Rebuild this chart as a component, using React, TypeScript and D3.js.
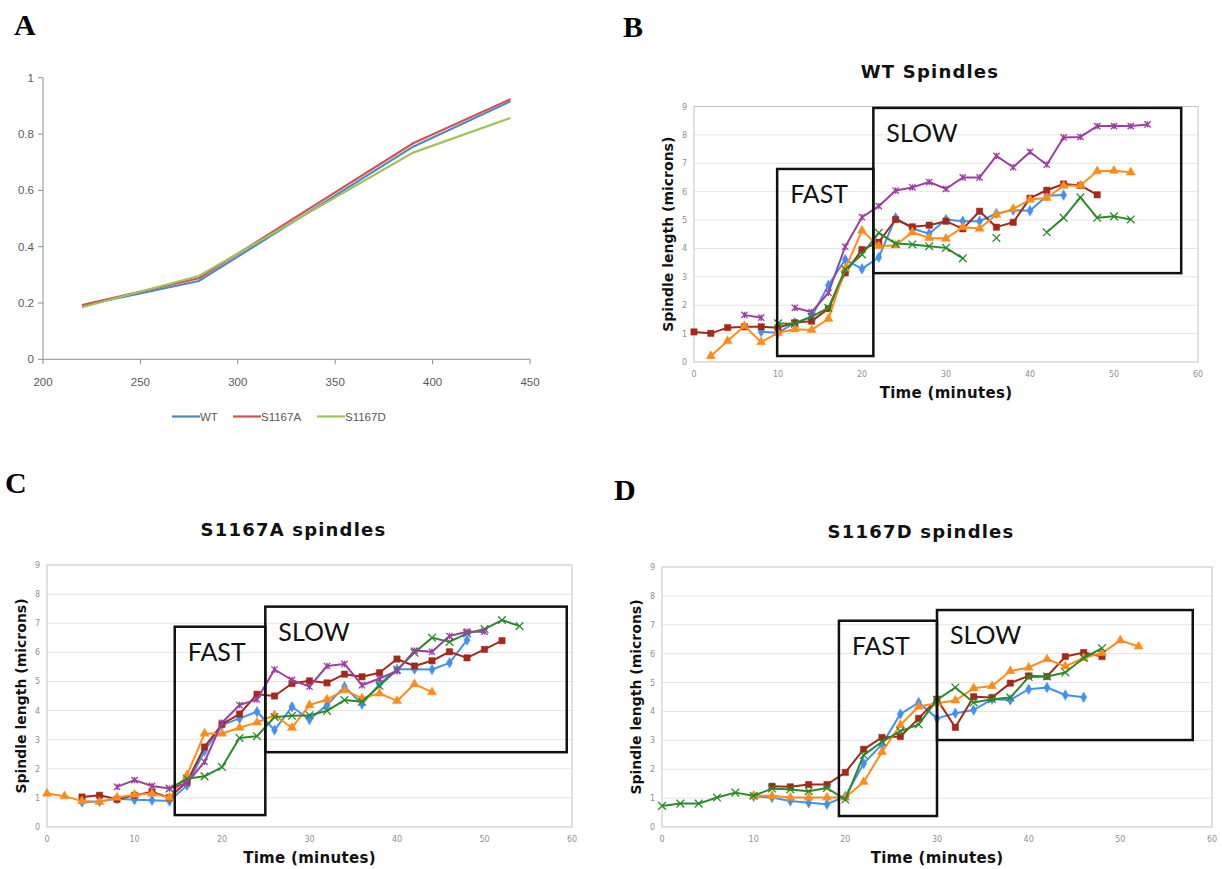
import * as d3 from "d3";

// ---- panel A: absorbance curves ----
const wavelengths = [220, 280, 390, 440];
const absWT = [0.19, 0.278, 0.755, 0.916];
const absS1167A = [0.193, 0.288, 0.767, 0.924];
const absS1167D = [0.185, 0.296, 0.734, 0.857];
const absTicksX = [200, 250, 300, 350, 400, 450];
const absTicksY = [0, 0.2, 0.4, 0.6, 0.8, 1];

// ---- panels B-D: spindle length vs time (one entry every 2 minutes) ----
const minutes = [0, 2, 4, 6, 8, 10, 12, 14, 16, 18, 20, 22, 24, 26, 28, 30, 32, 34, 36, 38, 40, 42, 44, 46, 48, 50, 52, 54];
const _ = null;

const wtBlue = [_, _, _, _, 1.07, 1.03, 1.38, 1.6, 2.7, 3.61, 3.28, 3.69, 5.08, 4.7, 4.52, 5.02, 4.96, 4.96, 5.23, 5.35, 5.33, 5.86, 5.88, _, _, _, _, _];
const wtRed = [1.06, 1.01, 1.21, 1.24, 1.24, 1.21, 1.38, 1.44, 1.88, 3.14, 3.96, 4.22, 5.02, 4.76, 4.82, 4.96, 4.69, 5.31, 4.75, 4.92, 5.77, 6.05, 6.27, 6.22, 5.89, _, _, _];
const wtOrange = [_, 0.21, 0.74, 1.27, 0.7, 1.03, 1.15, 1.13, 1.52, 3.28, 4.63, 4.08, 4.11, 4.57, 4.37, 4.35, 4.75, 4.7, 5.19, 5.39, 5.72, 5.78, 6.21, 6.22, 6.72, 6.74, 6.68, _];
const wtGreen = [_, _, _, _, _, 1.36, 1.35, 1.6, 1.91, 3.26, 3.79, 4.55, 4.17, 4.14, 4.08, 4.02, 3.65, _, 4.37, _, _, 4.57, 5.08, 5.8, 5.08, 5.13, 5.02, _];
const wtPurple = [_, _, _, 1.66, 1.56, _, 1.91, 1.76, 2.44, 4.06, 5.1, 5.49, 6.04, 6.15, 6.34, 6.1, 6.5, 6.5, 7.26, 6.86, 7.4, 6.95, 7.91, 7.93, 8.31, 8.31, 8.31, 8.37];

const aBlue = [_, _, 0.86, 0.88, 0.97, 0.94, 0.92, 0.89, 1.43, 2.61, 3.5, 3.73, 3.96, 3.33, 4.13, 3.69, 4.19, 4.82, 4.22, 4.91, 5.42, 5.42, 5.41, 5.64, 6.42, _, _, _];
const aRed = [_, _, 1.03, 1.09, 0.95, 1.09, 1.2, 1.01, 1.55, 2.75, 3.53, 3.88, 4.56, 4.5, 4.93, 5.02, 4.95, 5.25, 5.16, 5.3, 5.77, 5.53, 5.71, 6.02, 5.81, 6.1, 6.4, _];
const aOrange = [1.15, 1.06, 0.89, 0.86, 1.01, 1.11, 1.15, 1.01, 1.78, 3.21, 3.21, 3.41, 3.59, 3.84, 3.41, 4.19, 4.38, 4.7, 4.42, 4.59, 4.33, 4.91, 4.63, _, _, _, _, _];
const aGreen = [_, _, _, _, _, _, _, 1.32, 1.66, 1.74, 2.06, 3.06, 3.12, 3.78, 3.82, 3.84, 3.99, 4.36, 4.3, 4.85, 5.4, 5.99, 6.5, 6.36, 6.65, 6.8, 7.11, 6.9];
const aPurple = [_, _, _, _, 1.38, 1.61, 1.41, 1.32, 1.51, 2.24, 3.58, 4.19, 4.38, 5.41, 5.05, 4.82, 5.53, 5.6, 4.87, 5.1, 5.36, 6.06, 6.02, 6.56, 6.71, 6.71, _, _];

const dBlue = [_, _, _, _, _, 1.06, 1.02, 0.9, 0.84, 0.79, 1.06, 2.2, 2.86, 3.91, 4.31, 3.76, 3.94, 4.05, 4.42, 4.4, 4.77, 4.83, 4.57, 4.49, _, _, _, _];
const dRed = [_, _, _, _, _, _, 1.41, 1.39, 1.47, 1.47, 1.89, 2.69, 3.1, 3.13, 3.76, 4.42, 3.45, 4.51, 4.48, 4.98, 5.23, 5.21, 5.9, 6.04, 5.9, _, _, _];
const dOrange = [_, _, _, _, _, 1.08, 1.08, 1.02, 1.02, 1.02, 1.02, 1.56, 2.6, 3.53, 4.17, 4.28, 4.38, 4.8, 4.88, 5.4, 5.52, 5.81, 5.56, 5.85, 6.02, 6.46, 6.25, _];
const dGreen = [0.73, 0.81, 0.81, 1.02, 1.19, 1.08, 1.33, 1.3, 1.24, 1.35, 0.95, 2.49, 2.95, 3.32, 3.55, 4.4, 4.83, 4.31, 4.42, 4.48, 5.19, 5.21, 5.35, 5.85, 6.19, _, _, _];

// FAST / SLOW boxes: [t0, t1, v0, v1]
const wtFast = [9.9, 21.35, 0.21, 6.8];
const wtSlow = [21.35, 58.0, 3.13, 8.95];
const aFast = [14.6, 24.95, 0.41, 6.88];
const aSlow = [24.95, 59.4, 2.57, 7.57];
const dFast = [19.3, 30.0, 0.38, 7.14];
const dSlow = [30.0, 57.9, 3.01, 7.51];

const spindleTicksX = [0, 10, 20, 30, 40, 50, 60];
const spindleTicksY = [0, 1, 2, 3, 4, 5, 6, 7, 8, 9];

const BLUE = "#4190f2";
const RED = "#a3291b";
const ORANGE = "#ff8c1a";
const GREEN = "#2b8a2b";
const PURPLE = "#9c3ea2";

const starType = {
  draw(ctx: any, size: number) {
    const r = Math.sqrt(size) / 2;
    ctx.moveTo(-r, -r);
    ctx.lineTo(r, r);
    ctx.moveTo(-r, r);
    ctx.lineTo(r, -r);
    ctx.moveTo(0, -r);
    ctx.lineTo(0, r);
  },
};

const markers: Record<string, { type: any; size: number; filled: boolean }> = {
  diamond: { type: d3.symbolDiamond, size: 32, filled: true },
  square: { type: d3.symbolSquare, size: 40, filled: true },
  triangle: { type: d3.symbolTriangle, size: 36, filled: true },
  x: { type: d3.symbolTimes, size: 40, filled: false },
  star: { type: starType, size: 40, filled: false },
};

const panelLetter = {
  fontFamily: "'Liberation Serif', serif",
  fontWeight: 700,
  fontSize: 30,
};

function AbsorbancePanel() {
  const x = d3.scaleLinear().domain([200, 450]).range([43, 530]);
  const y = d3.scaleLinear().domain([0, 1]).range([359.3, 77.7]);
  const line = d3
    .line<number>()
    .x((_d, i) => x(wavelengths[i]))
    .y((d) => y(d));
  const series = [
    { name: "WT", values: absWT, color: "#4f86c6", lx: 172 },
    { name: "S1167A", values: absS1167A, color: "#cf5450", lx: 233 },
    { name: "S1167D", values: absS1167D, color: "#9fc25a", lx: 317 },
  ];
  const font = { fontFamily: "'Liberation Sans', Arial, sans-serif", fontSize: 11.5, fill: "#595959" };
  return (
    <g>
      <text x={14} y={35} {...panelLetter}>A</text>
      <line x1={x(200)} x2={x(450)} y1={y(0)} y2={y(0)} stroke="#8c8c8c" />
      <line x1={x(200)} x2={x(200)} y1={y(0)} y2={y(1)} stroke="#8c8c8c" />
      {absTicksY.map((t) => (
        <g key={t}>
          <line x1={x(200) - 5} x2={x(200)} y1={y(t)} y2={y(t)} stroke="#8c8c8c" />
          <text x={x(200) - 9} y={y(t) + 4} textAnchor="end" {...font}>{t}</text>
        </g>
      ))}
      {absTicksX.map((t) => (
        <g key={t}>
          <line x1={x(t)} x2={x(t)} y1={y(0)} y2={y(0) + 5} stroke="#8c8c8c" />
          <text x={x(t)} y={y(0) + 27} textAnchor="middle" {...font}>{t}</text>
        </g>
      ))}
      {series.map((s) => (
        <path key={s.name} d={line(s.values) || ""} fill="none" stroke={s.color} strokeWidth={2.2} />
      ))}
      {series.map((s) => (
        <g key={s.name + "l"}>
          <line x1={s.lx} x2={s.lx + 28} y1={416.5} y2={416.5} stroke={s.color} strokeWidth={2.2} />
          <text x={s.lx + 28} y={420.5} {...font}>{s.name}</text>
        </g>
      ))}
    </g>
  );
}

type Series = { values: (number | null)[]; color: string; marker: string };

function SpindlePanel(props: {
  letter: string;
  letterX: number;
  letterY: number;
  title: string;
  left: number;
  right: number;
  top: number;
  bottom: number;
  series: Series[];
  fast: number[];
  slow: number[];
}) {
  const { left, right, top, bottom } = props;
  const x = d3.scaleLinear().domain([0, 60]).range([left, right]);
  const y = d3.scaleLinear().domain([0, 9]).range([bottom, top]);
  const line = d3
    .line<number | null>()
    .defined((d) => d != null)
    .x((_d, i) => x(minutes[i]))
    .y((d) => y(d as number));
  const tickFont = { fontFamily: "'DejaVu Sans', Verdana, sans-serif", fontSize: 8, fill: "#8f8f8f" };
  const boldFont = { fontFamily: "'DejaVu Sans', Verdana, sans-serif", fontWeight: 700, fill: "#111" };
  const boxText = { fontFamily: "Lato, 'Open Sans', sans-serif", fontSize: 25, fill: "#111" };
  const cx = (left + right) / 2;
  const box = (b: number[], label: string) => (
    <g>
      <rect
        x={x(b[0])}
        y={y(b[3])}
        width={x(b[1]) - x(b[0])}
        height={y(b[2]) - y(b[3])}
        fill="none"
        stroke="#111"
        strokeWidth={2.5}
      />
      <text x={x(b[0]) + 13} y={y(b[3]) + 34} {...boxText}>{label}</text>
    </g>
  );
  return (
    <g>
      <text x={props.letterX} y={props.letterY} {...panelLetter}>{props.letter}</text>
      <text x={cx - 16} y={top - 29} textAnchor="middle" fontSize={18} letterSpacing={1.2} {...boldFont}>
        {props.title}
      </text>
      {spindleTicksY.map((t) => (
        <g key={t}>
          {t > 0 && t < 9 && (
            <line x1={left} x2={right} y1={y(t)} y2={y(t)} stroke="#e4e4e4" strokeWidth={1} />
          )}
          <text x={left - 7} y={y(t) + 3} textAnchor="end" {...tickFont}>{t}</text>
        </g>
      ))}
      {spindleTicksX.map((t) => (
        <text key={t} x={x(t)} y={bottom + 15} textAnchor="middle" {...tickFont}>{t}</text>
      ))}
      <rect x={left} y={top} width={right - left} height={bottom - top} fill="none" stroke="#c4c4c4" />
      {props.series.map((s, k) => {
        const m = markers[s.marker];
        const sym = d3.symbol().type(m.type).size(m.size)();
        return (
          <g key={k}>
            <path d={line(s.values) || ""} fill="none" stroke={s.color} strokeWidth={2} strokeLinejoin="round" />
            {s.values.map((v, i) =>
              v == null ? null : (
                <path
                  key={i}
                  transform={`translate(${x(minutes[i])},${y(v)})`}
                  d={sym || ""}
                  fill={m.filled ? s.color : "none"}
                  stroke={s.color}
                  strokeWidth={m.filled ? 0.5 : 1.3}
                />
              )
            )}
          </g>
        );
      })}
      {box(props.fast, "FAST")}
      {box(props.slow, "SLOW")}
      <text x={cx} y={bottom + 36} textAnchor="middle" fontSize={15} letterSpacing={0.3} {...boldFont}>
        Time (minutes)
      </text>
      <text
        transform={`translate(${left - 21},${(top + bottom) / 2}) rotate(-90)`}
        textAnchor="middle"
        fontSize={14}
        {...boldFont}
      >
        Spindle length (microns)
      </text>
    </g>
  );
}

export default function App() {
  return (
    <svg
      width={1222}
      height={869}
      style={{ position: "absolute", left: 0, top: 0, background: "#fff" }}
    >
      <AbsorbancePanel />
      <SpindlePanel
        letter="B"
        letterX={623}
        letterY={37}
        title="WT Spindles"
        left={694}
        right={1198}
        top={106.5}
        bottom={362}
        series={[
          { values: wtBlue, color: BLUE, marker: "diamond" },
          { values: wtRed, color: RED, marker: "square" },
          { values: wtOrange, color: ORANGE, marker: "triangle" },
          { values: wtGreen, color: GREEN, marker: "x" },
          { values: wtPurple, color: PURPLE, marker: "star" },
        ]}
        fast={wtFast}
        slow={wtSlow}
      />
      <SpindlePanel
        letter="C"
        letterX={5}
        letterY={493}
        title="S1167A spindles"
        left={47}
        right={572}
        top={565}
        bottom={827}
        series={[
          { values: aBlue, color: BLUE, marker: "diamond" },
          { values: aRed, color: RED, marker: "square" },
          { values: aOrange, color: ORANGE, marker: "triangle" },
          { values: aGreen, color: GREEN, marker: "x" },
          { values: aPurple, color: PURPLE, marker: "star" },
        ]}
        fast={aFast}
        slow={aSlow}
      />
      <SpindlePanel
        letter="D"
        letterX={614}
        letterY={500}
        title="S1167D spindles"
        left={662}
        right={1212}
        top={567}
        bottom={827}
        series={[
          { values: dBlue, color: BLUE, marker: "diamond" },
          { values: dRed, color: RED, marker: "square" },
          { values: dOrange, color: ORANGE, marker: "triangle" },
          { values: dGreen, color: GREEN, marker: "x" },
        ]}
        fast={dFast}
        slow={dSlow}
      />
    </svg>
  );
}
